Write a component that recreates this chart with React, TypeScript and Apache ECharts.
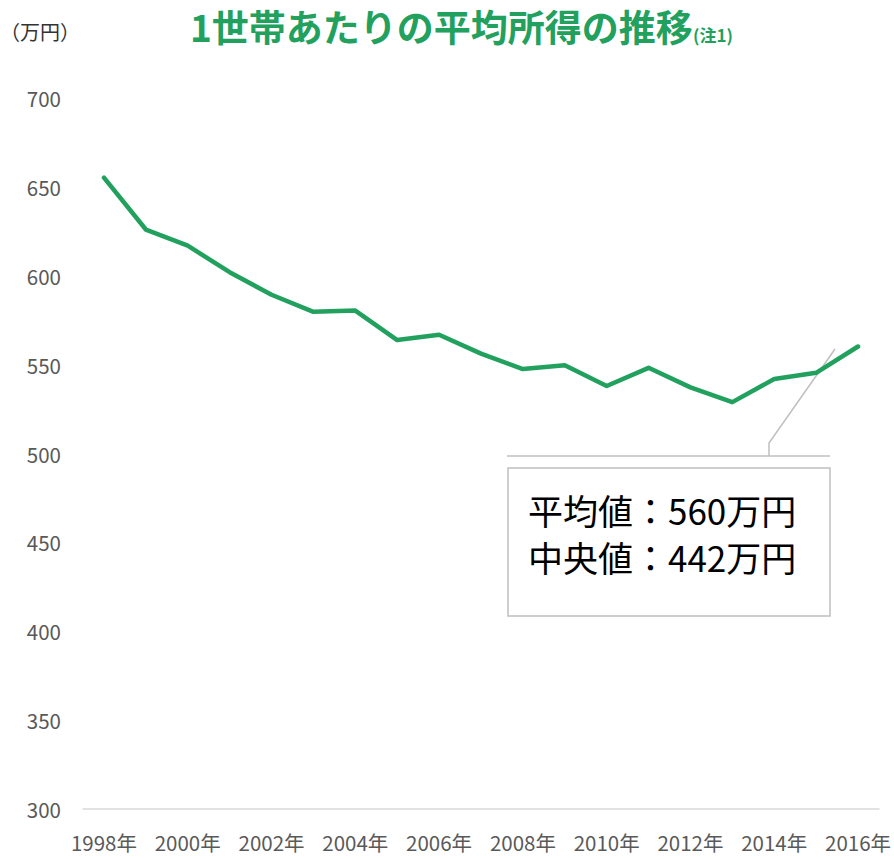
import React, { useEffect, useRef } from "react";
import * as echarts from "echarts";

const years = ["1998", "1999", "2000", "2001", "2002", "2003", "2004", "2005", "2006", "2007", "2008", "2009", "2010", "2011", "2012", "2013", "2014", "2015", "2016"];
const income = [655.2, 626.0, 616.9, 602.0, 589.3, 579.7, 580.4, 563.8, 566.8, 556.2, 547.5, 549.6, 538.0, 548.2, 537.2, 528.9, 541.9, 545.4, 560.2];
const titleMain = "1世帯あたりの平均所得の推移";
const titleNote = "(注1)";
const unitLabel = "（万円）";
const noteLines = ["平均値：560万円", "中央値：442万円"];

const GREEN = "#22A15E";
const FONT = "'Noto Sans CJK JP', 'Noto Sans', sans-serif";

export default function App() {
  const ref = useRef<HTMLDivElement>(null);
  useEffect(() => {
    if (!ref.current) return;
    const chart = echarts.init(ref.current, undefined, { renderer: "svg" });
    chart.setOption({
      animation: false,
      textStyle: { fontFamily: FONT },
      grid: { left: 83, right: 14, top: 98, bottom: 50, containLabel: false },
      xAxis: {
        type: "category",
        data: years.map((y) => y + "年"),
        boundaryGap: true,
        axisLine: { show: true, lineStyle: { color: "#d9d9d9", width: 1.5 } },
        axisTick: { show: false },
        axisLabel: { interval: 1, color: "#595959", fontSize: 20.5, margin: 23, fontFamily: FONT },
      },
      yAxis: {
        type: "value",
        min: 300,
        max: 700,
        interval: 50,
        axisLine: { show: false },
        axisTick: { show: false },
        splitLine: { show: false },
        axisLabel: { color: "#595959", fontSize: 20.5, margin: 22, fontFamily: FONT },
      },
      series: [
        {
          type: "line",
          data: income,
          symbol: "none",
          lineStyle: { color: GREEN, width: 4.5, cap: "round", join: "round" },
        },
      ],
      graphic: [
        {
          type: "text",
          x: 0,
          y: 31,
          style: { text: unitLabel, fill: "#333", font: `20px ${FONT}`, textVerticalAlign: "middle" },
        },
        {
          type: "text",
          x: 190,
          y: 44,
          style: {
            text: titleMain,
            fill: GREEN,
            font: `bold 37px ${FONT}`,
            textVerticalAlign: "bottom",
          },
        },
        {
          type: "text",
          x: 693,
          y: 43,
          style: {
            text: titleNote,
            fill: GREEN,
            font: `bold 17px ${FONT}`,
            textVerticalAlign: "bottom",
          },
        },
        {
          type: "polyline",
          shape: { points: [[835, 349], [769, 443], [769, 456]] },
          style: { stroke: "#bfbfbf", lineWidth: 1.5, fill: null },
        },
        {
          type: "line",
          shape: { x1: 507, y1: 456, x2: 830, y2: 456 },
          style: { stroke: "#bfbfbf", lineWidth: 1.5 },
        },
        {
          type: "rect",
          shape: { x: 508, y: 468, width: 322, height: 148 },
          style: { stroke: "#bfbfbf", lineWidth: 1.5, fill: "#fff" },
        },
        {
          type: "text",
          x: 528,
          y: 509,
          style: { text: noteLines[0], fill: "#000", font: `35px ${FONT}`, textVerticalAlign: "middle" },
        },
        {
          type: "text",
          x: 528,
          y: 556,
          style: { text: noteLines[1], fill: "#000", font: `35px ${FONT}`, textVerticalAlign: "middle" },
        },
      ],
    });
    return () => chart.dispose();
  }, []);
  return <div ref={ref} style={{ width: 894, height: 859, position: "absolute", left: 0, top: 0, background: "#fff" }} />;
}
